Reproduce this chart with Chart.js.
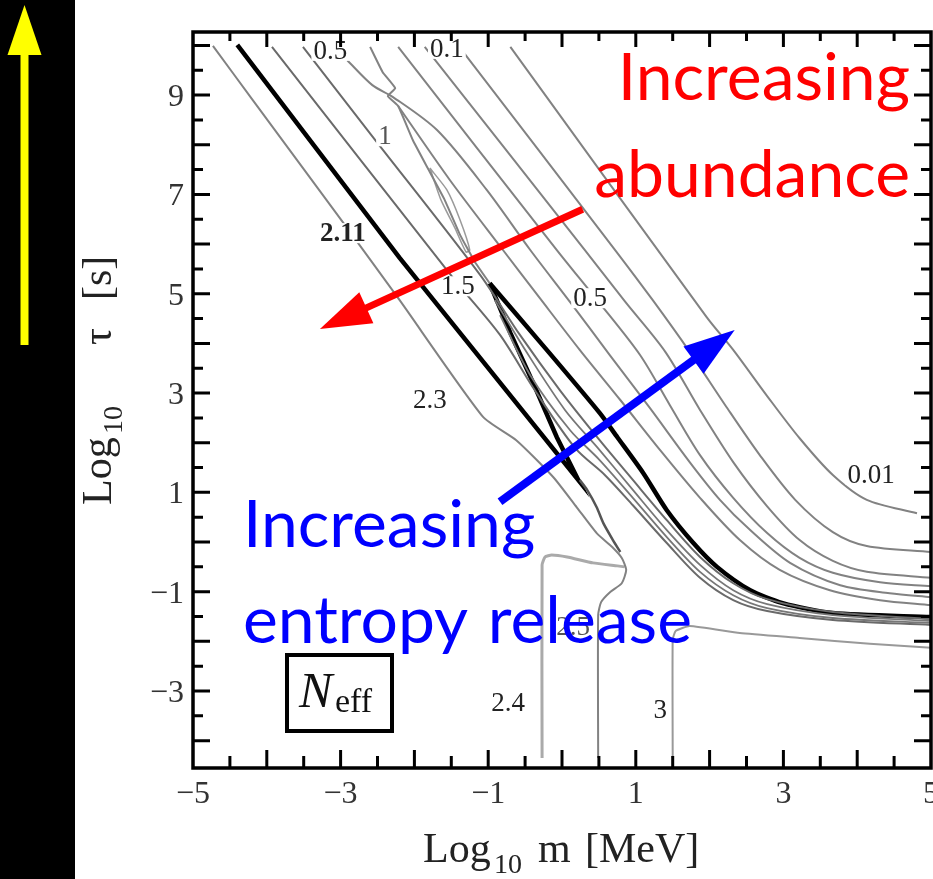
<!DOCTYPE html>
<html>
<head>
<meta charset="utf-8">
<script src="https://cdn.jsdelivr.net/npm/chart.js@4.4.0/dist/chart.umd.min.js"></script>
<style>
  html, body { margin: 0; padding: 0; background: #fff; }
  #wrap { width: 933px; height: 879px; }
</style>
</head>
<body>
<div id="wrap"><canvas id="myChart" width="933" height="879"></canvas></div>
<script>
// contour lines, [log10 m, log10 tau]
var c230 = [[-4.73, 9.99], [-4.19, 8.90], [-2.97, 6.44], [-2.20, 4.87], [-1.07, 2.52], [-0.62, 2.05], [-0.12, 1.31], [0.20, 0.70], [0.47, 0.18], [0.68, -0.10], [0.81, -0.32], [0.87, -0.56], [0.81, -0.83], [0.65, -1.01], [0.53, -1.21], [0.49, -1.47], [0.49, -4.35]];
var c211a = [[-4.40, 10.01], [-2.20, 5.72], [0.22, 1.25], [-0.07, 2.11], [-0.39, 3.20], [-0.70, 4.21], [-0.98, 5.21]];
var c211b = [[-0.98, 5.21], [-0.23, 3.91], [0.51, 2.60], [0.75, 2.11], [1.10, 1.39], [1.42, 0.64], [1.78, -0.02], [2.10, -0.50], [2.55, -0.97], [2.99, -1.23], [3.67, -1.43], [5.00, -1.51]];
var c150 = [[-3.93, 9.97], [-1.45, 5.27], [-0.84, 4.17], [-0.37, 3.06], [0.18, 1.89], [0.58, 1.35], [0.96, 0.74], [1.42, -0.02], [1.87, -0.72], [2.32, -1.17], [2.78, -1.39], [3.67, -1.57], [5.00, -1.67]];
var c100 = [[-3.51, 9.97], [-2.57, 8.17], [-1.11, 5.38], [-0.57, 4.17], [-0.03, 3.06], [0.51, 2.05], [0.96, 1.25], [1.42, 0.44], [1.87, -0.30], [2.32, -0.83], [2.78, -1.15], [3.67, -1.41], [5.00, -1.55]];
var band1 = [[-0.91, 4.87], [-0.50, 3.87], [0.04, 2.66], [0.51, 1.85], [0.96, 1.05], [1.42, 0.24], [1.87, -0.46], [2.32, -0.97], [2.78, -1.25], [3.67, -1.47], [5.00, -1.59]];
var band2 = [[-0.84, 4.57], [-0.43, 3.36], [0.11, 2.25], [0.51, 1.65], [0.96, 0.89], [1.42, 0.10], [1.87, -0.60], [2.32, -1.07], [2.78, -1.33], [3.67, -1.53], [5.00, -1.63]];
var wiggle = [[-2.60, 9.97], [-2.43, 9.46], [-2.26, 9.14], [-2.36, 8.98], [-2.22, 8.78], [-2.02, 8.09], [-1.82, 7.53], [-1.59, 6.89], [-1.38, 6.18], [-1.18, 5.64], [-0.98, 5.21]];
var lens = [[-1.79, 7.53], [-1.56, 7.09], [-1.38, 6.48], [-1.25, 5.88], [-1.30, 5.84], [-1.45, 6.32], [-1.64, 6.89], [-1.79, 7.53]];
var c050 = [[-2.91, 9.70], [-2.57, 9.20], [-2.29, 8.96], [-1.69, 8.29], [-1.02, 7.09], [-0.43, 5.88], [0.11, 4.83], [0.65, 3.76], [1.19, 2.70], [1.73, 1.61], [2.14, 0.85], [2.55, 0.24], [3.09, -0.42], [3.77, -0.87], [4.44, -1.03], [5.00, -1.11]];
var c070 = [[-2.22, 8.78], [-1.52, 7.29], [-0.80, 5.88], [-0.30, 4.91], [0.24, 3.87], [0.79, 2.86], [1.33, 1.85], [1.87, 0.89], [2.41, 0.04], [2.95, -0.56], [3.63, -0.97], [4.31, -1.17], [5.00, -1.27]];
var c030 = [[-2.22, 9.97], [-0.07, 5.88], [0.51, 4.81], [1.06, 3.76], [1.46, 2.76], [1.87, 1.75], [2.32, 0.89], [2.78, 0.18], [3.22, -0.32], [3.67, -0.62], [4.31, -0.81], [5.00, -0.89]];
var c020 = [[-1.86, 9.97], [0.31, 5.88], [0.85, 4.85], [1.40, 3.83], [1.87, 2.66], [2.32, 1.61], [2.78, 0.72], [3.22, 0.04], [3.67, -0.38], [4.13, -0.60], [5.00, -0.72]];
var c010 = [[-1.36, 9.91], [0.72, 5.88], [1.23, 4.87], [1.73, 3.83], [2.21, 2.76], [2.68, 1.75], [3.16, 0.85], [3.67, 0.20], [4.13, -0.08], [5.00, -0.20]];
var c001 = [[-0.70, 9.97], [1.96, 4.53], [2.32, 3.87], [2.78, 2.94], [3.22, 2.09], [3.67, 1.35], [4.13, 0.85], [4.81, 0.58]];
var tipTail = [[0.24, 1.25], [0.34, 1.05], [0.47, 0.70], [0.56, 0.38], [0.69, 0.04], [0.79, -0.20]];
var c240 = [[-0.27, -4.35], [-0.27, -0.46], [-0.23, -0.30], [-0.14, -0.26], [0.07, -0.30], [0.42, -0.42], [0.75, -0.48], [0.85, -0.50]];
var c300 = [[1.50, -4.35], [1.50, -1.97], [1.54, -1.79], [1.73, -1.69], [2.41, -1.83], [3.22, -1.93], [4.17, -2.05], [5.00, -2.13]];

var labelText = ['0.5', '0.1', '1', '2.11', '1.5', '0.5', '2.3', '0.01', '2.5', '2.4', '3'];
var labelX = [-3.14, -1.56, -2.40, -2.97, -1.41, 0.38, -1.79, 4.19, 0.15, -0.73, 1.33];
var labelY = [9.89, 9.93, 8.17, 6.22, 5.15, 4.91, 2.86, 1.35, -1.71, -3.24, -3.38];

var xTickLabels = [-5, -3, -1, 1, 3, 5];
var yTickLabels = [-3, -1, 1, 3, 5, 7, 9];

// annotation arrows, [start, tip] in data units
var redArrow = [[0.28, 6.70], [-3.28, 4.29]];
var blueArrow = [[-0.84, 0.81], [2.34, 4.27]];

function toPoints(arr) {
    return arr.map(function (p) { return {x: p[0], y: p[1]}; });
}

function line(arr, color, width, tension) {
    return {
        data: toPoints(arr),
        showLine: true,
        borderColor: color,
        borderWidth: width,
        pointRadius: 0,
        fill: false,
        tension: tension
    };
}

function fmt(v) {
    return v < 0 ? '\u2212' + Math.abs(v) : String(v);
}

function drawArrow(ctx, x0, y0, x1, y1, color, width, headLen, headHalf) {
    var dx = x1 - x0, dy = y1 - y0,
        len = Math.sqrt(dx * dx + dy * dy),
        ux = dx / len, uy = dy / len,
        bx = x1 - ux * headLen, by = y1 - uy * headLen;

    ctx.strokeStyle = color;
    ctx.lineWidth = width;
    ctx.beginPath();
    ctx.moveTo(x0, y0);
    ctx.lineTo(bx + ux * 3, by + uy * 3);
    ctx.stroke();

    ctx.fillStyle = color;
    ctx.beginPath();
    ctx.moveTo(x1, y1);
    ctx.lineTo(bx - uy * headHalf, by + ux * headHalf);
    ctx.lineTo(bx + uy * headHalf, by - ux * headHalf);
    ctx.closePath();
    ctx.fill();
}

var decor = {
    id: 'decor',
    beforeDraw: function (chart) {
        var ctx = chart.ctx;
        ctx.save();
        ctx.fillStyle = '#fff';
        ctx.fillRect(0, 0, chart.width, chart.height);
        ctx.fillStyle = '#000';
        ctx.fillRect(0, 0, 75, chart.height);

        ctx.fillStyle = '#ffff00';
        ctx.fillRect(20.5, 54, 8, 291);
        ctx.beginPath();
        ctx.moveTo(24.5, 5);
        ctx.lineTo(41.5, 55);
        ctx.lineTo(7.5, 55);
        ctx.closePath();
        ctx.fill();
        ctx.restore();
    },
    afterDatasetsDraw: function (chart) {
        var ctx = chart.ctx,
            a = chart.chartArea,
            xs = chart.scales.x,
            ys = chart.scales.y,
            v, p, i;

        ctx.save();

        // contour labels
        ctx.textAlign = 'center';
        ctx.textBaseline = 'middle';
        for (i = 0; i < labelText.length; i++) {
            var px = xs.getPixelForValue(labelX[i]),
                py = ys.getPixelForValue(labelY[i]),
                t = labelText[i];
            ctx.font = (t === '2.11' ? 'bold ' : '') + '27px "Liberation Serif"';
            var w = ctx.measureText(t).width;
            ctx.fillStyle = '#fff';
            ctx.fillRect(px - w / 2 - 2, py - 10, w + 4, 20);
            ctx.fillStyle = (t === '1' || t === '2.5') ? '#555' : '#222';
            ctx.fillText(t, px, py + 1);
        }

        // frame
        ctx.strokeStyle = '#000';
        ctx.lineWidth = 3.5;
        ctx.strokeRect(a.left, a.top, a.right - a.left, a.bottom - a.top);

        // inward ticks
        ctx.lineWidth = 3;
        ctx.beginPath();
        for (v = -4.5; v <= 4.5; v += 0.5) {
            p = xs.getPixelForValue(v);
            var lx = Number.isInteger(v) ? 18 : 12;
            ctx.moveTo(p, a.bottom);
            ctx.lineTo(p, a.bottom - lx);
            ctx.moveTo(p, a.top);
            ctx.lineTo(p, a.top + lx - 3);
        }
        for (v = -4.5; v <= 10; v += 0.5) {
            p = ys.getPixelForValue(v);
            if (p > a.bottom - 4 || p < a.top + 4) continue;
            var ly = Number.isInteger(v) ? 17 : 10;
            ctx.moveTo(a.left, p);
            ctx.lineTo(a.left + ly, p);
            ctx.moveTo(a.right, p);
            ctx.lineTo(a.right - ly, p);
        }
        ctx.stroke();

        // tick labels
        ctx.fillStyle = '#333';
        ctx.font = '32px "Liberation Serif"';
        ctx.textBaseline = 'alphabetic';
        ctx.textAlign = 'center';
        xTickLabels.forEach(function (t) {
            ctx.fillText(fmt(t), xs.getPixelForValue(t), 803);
        });
        ctx.textAlign = 'right';
        yTickLabels.forEach(function (t) {
            ctx.fillText(fmt(t), 184, ys.getPixelForValue(t) + 11);
        });

        // axis titles
        ctx.fillStyle = '#222';
        ctx.textAlign = 'left';
        ctx.font = '42px "Liberation Serif"';
        ctx.fillText('Log', 423, 862);
        ctx.font = '28px "Liberation Serif"';
        ctx.fillText('10', 494, 873);
        ctx.font = '42px "Liberation Serif"';
        ctx.fillText('m', 538, 862);
        ctx.fillText('[MeV]', 585, 862);

        ctx.save();
        ctx.translate(111, 505);
        ctx.rotate(-Math.PI / 2);
        ctx.font = '42px "Liberation Serif"';
        ctx.fillText('Log', 0, 0);
        ctx.font = '28px "Liberation Serif"';
        ctx.fillText('10', 71, 11);
        ctx.font = '42px "Liberation Serif"';
        ctx.fillText('\u03c4', 160, 0);
        ctx.fillText('[s]', 205, 0);
        ctx.restore();

        // N_eff box
        ctx.lineWidth = 4;
        ctx.strokeStyle = '#000';
        ctx.strokeRect(287, 655, 105, 76);
        ctx.fillStyle = '#111';
        ctx.font = 'italic 50px "Liberation Serif"';
        ctx.fillText('N', 299, 707);
        ctx.font = '34px "Liberation Serif"';
        ctx.fillText('eff', 335, 712);

        ctx.restore();
    },
    afterDraw: function (chart) {
        var ctx = chart.ctx,
            xs = chart.scales.x,
            ys = chart.scales.y;

        ctx.save();
        drawArrow(ctx,
            xs.getPixelForValue(redArrow[0][0]), ys.getPixelForValue(redArrow[0][1]),
            xs.getPixelForValue(redArrow[1][0]), ys.getPixelForValue(redArrow[1][1]),
            '#ff0000', 7, 51, 17);
        drawArrow(ctx,
            xs.getPixelForValue(blueArrow[0][0]), ys.getPixelForValue(blueArrow[0][1]),
            xs.getPixelForValue(blueArrow[1][0]), ys.getPixelForValue(blueArrow[1][1]),
            '#0000ff', 8, 51, 17);

        ctx.font = '66px Lato';
        ctx.textBaseline = 'alphabetic';
        ctx.fillStyle = '#ff0000';
        ctx.textAlign = 'right';
        ctx.fillText('Increasing', 910, 100);
        ctx.fillText('abundance', 910, 197);

        ctx.fillStyle = '#0000ff';
        ctx.textAlign = 'left';
        ctx.fillText('Increasing', 243, 547);
        ctx.fillText('entropy', 243, 643);
        ctx.textAlign = 'right';
        ctx.fillText('release', 692, 643);
        ctx.restore();
    }
};

var gray = '#828282';

var chart = new Chart(document.getElementById('myChart'), {
    type: 'scatter',
    data: {
        datasets: [
            line(c001, gray, 2, 0.3),
            line(c010, gray, 2, 0.3),
            line(c020, gray, 2, 0.3),
            line(c030, gray, 2, 0.3),
            line(c050, gray, 2, 0.3),
            line(c070, gray, 2, 0.3),
            line(wiggle, gray, 2, 0.1),
            line(lens, '#9a9a9a', 1.5, 0.2),
            line(c100, '#6a6a6a', 2, 0.3),
            line(band1, '#777', 1.8, 0.3),
            line(band2, '#777', 1.8, 0.3),
            line(c150, '#6a6a6a', 2, 0.3),
            line(c230, gray, 2, 0.2),
            line(tipTail, '#555', 2.5, 0.2),
            line(c240, '#aaa', 3, 0.15),
            line(c300, '#999', 2, 0.15),
            line(c211a, '#000', 4.5, 0),
            line(c211b, '#000', 4.5, 0.25)
        ]
    },
    options: {
        responsive: false,
        animation: false,
        devicePixelRatio: 1,
        layout: {padding: {left: 193, top: 32, right: 2, bottom: 111}},
        plugins: {
            legend: {display: false},
            tooltip: {enabled: false}
        },
        scales: {
            x: {type: 'linear', min: -5, max: 5, display: false},
            y: {type: 'linear', min: -4.55, max: 10.27, display: false}
        }
    },
    plugins: [decor]
});
</script>
</body>
</html>
